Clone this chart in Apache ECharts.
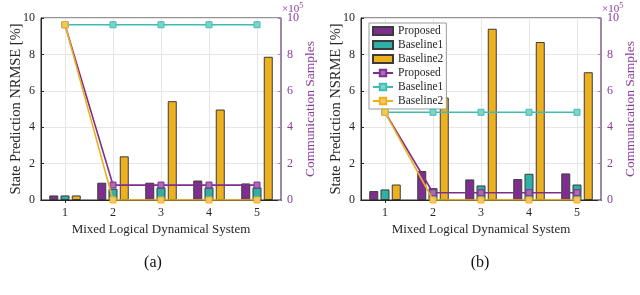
<!DOCTYPE html>
<html>
<head>
<meta charset="utf-8">
<script src="https://cdn.jsdelivr.net/npm/echarts@6/dist/echarts.min.js"></script>
<style>
html,body{margin:0;padding:0;background:#fff;}
#c{width:640px;height:295px;}
</style>
</head>
<body>
<div id="c"></div>
<script>
// ---------- data ----------
var categories = ['1', '2', '3', '4', '5'];
var seriesNames = ['Proposed', 'Baseline1', 'Baseline2'];
var yTicks = [0, 2, 4, 6, 8, 10];

// (a) State prediction NRMSE [%]
var nrmseProposed  = [0.25, 0.95, 0.95, 1.07, 0.91];
var nrmseBaseline1 = [0.25, 0.62, 0.69, 0.69, 0.69];
var nrmseBaseline2 = [0.25, 2.40, 5.43, 4.97, 7.87];
// (a) Communication samples (x10^5)
var commAProposed  = [9.63, 0.82, 0.82, 0.82, 0.82];
var commABaseline1 = [9.63, 9.63, 9.63, 9.63, 9.63];
var commABaseline2 = [9.63, 0, 0, 0, 0];

// (b) State prediction NSRME [%]
var nsrmeProposed  = [0.49, 1.59, 1.13, 1.15, 1.46];
var nsrmeBaseline1 = [0.58, 0.65, 0.80, 1.44, 0.85];
var nsrmeBaseline2 = [0.85, 5.63, 9.41, 8.68, 7.02];
// (b) Communication samples (x10^5)
var commBProposed  = [4.82, 0.40, 0.40, 0.40, 0.40];
var commBBaseline1 = [4.82, 4.82, 4.82, 4.82, 4.82];
var commBBaseline2 = [4.82, 0, 0, 0, 0];

// ---------- styles ----------
var FONT = '"Liberation Serif", "DejaVu Serif", serif';
var barColors = ['#7E2F8E', '#2FAFA5', '#EDB120'];
var lineColors = ['#7E2F8E', '#3FBDB2', '#EDB120'];
var markerFill = ['#a86bb5', '#7fd3cb', '#f3c95f'];
var rightColor = '#8A3D9C';
var rightLine = '#a77cba';
var dark = '#262626';

var grids = [
  {left: 41, top: 18, width: 240, height: 182},
  {left: 361, top: 18, width: 240, height: 182}
];

function gridOpt(g) {
  return {left: g.left, top: g.top, width: g.width, height: g.height,
    show: true, borderColor: dark, borderWidth: 1, backgroundColor: 'transparent'};
}

var xAxes = [], yAxes = [];
[0, 1].forEach(function (i) {
  xAxes.push({
    type: 'category', gridIndex: i, data: categories, position: 'bottom',
    boundaryGap: true,
    name: 'Mixed Logical Dynamical System', nameLocation: 'middle', nameGap: 23,
    nameMoveOverlap: false,
    nameTextStyle: {fontFamily: FONT, fontSize: 13, color: dark},
    axisLine: {show: true, lineStyle: {color: dark, width: 1}},
    axisTick: {show: true, inside: true, alignWithLabel: true, length: 3, lineStyle: {color: dark}},
    axisLabel: {fontFamily: FONT, fontSize: 12, color: dark, margin: 7},
    splitLine: {show: true, alignWithLabel: true, lineStyle: {color: '#e6e6e6', width: 1}}
  });
  xAxes.push({
    type: 'category', gridIndex: i, data: categories, position: 'top',
    boundaryGap: true,
    axisLine: {show: true, lineStyle: {color: dark, width: 1}},
    axisTick: {show: true, inside: true, alignWithLabel: true, length: 3, lineStyle: {color: dark}},
    axisLabel: {show: false},
    splitLine: {show: false}
  });
  yAxes.push({
    type: 'value', gridIndex: i, position: 'left', min: 0, max: 10, interval: 2,
    name: i === 0 ? 'State Prediction NRMSE [%]' : 'State Prediction NSRME [%]',
    nameLocation: 'middle', nameGap: 17, nameMoveOverlap: false,
    nameTextStyle: {fontFamily: FONT, fontSize: 14.5, color: dark},
    axisLine: {show: true, lineStyle: {color: dark, width: 1}},
    axisTick: {show: true, inside: true, length: 3, lineStyle: {color: dark}},
    axisLabel: {fontFamily: FONT, fontSize: 12, color: dark, margin: 6},
    splitLine: {show: true, lineStyle: {color: '#e6e6e6', width: 1}}
  });
  yAxes.push({
    type: 'value', gridIndex: i, position: 'right', min: 0, max: 10, interval: 2,
    name: 'Communication Samples',
    nameLocation: 'middle', nameGap: 22, nameMoveOverlap: false,
    nameTextStyle: {fontFamily: FONT, fontSize: 13.5, color: rightColor},
    axisLine: {show: true, lineStyle: {color: rightLine, width: 1}},
    axisTick: {show: true, inside: true, length: 3, lineStyle: {color: rightLine}},
    axisLabel: {fontFamily: FONT, fontSize: 12, color: rightColor, margin: 6},
    splitLine: {show: false}
  });
});

var barSets = [[nrmseProposed, nrmseBaseline1, nrmseBaseline2],
               [nsrmeProposed, nsrmeBaseline1, nsrmeBaseline2]];
var lineSets = [[commAProposed, commABaseline1, commABaseline2],
                [commBProposed, commBBaseline1, commBBaseline2]];

var series = [];
[0, 1].forEach(function (g) {
  barSets[g].forEach(function (d, k) {
    series.push({
      type: 'bar', name: seriesNames[k], data: d,
      xAxisIndex: g * 2, yAxisIndex: g * 2,
      barWidth: 9, barGap: '25%',
      itemStyle: {color: barColors[k], borderColor: '#3b3b3b', borderWidth: 1},
      z: 2, silent: true
    });
  });
});
[0, 1].forEach(function (g) {
  lineSets[g].forEach(function (d, k) {
    series.push({
      type: 'line', name: seriesNames[k] + ' line', data: d,
      xAxisIndex: g * 2, yAxisIndex: g * 2 + 1,
      symbol: 'rect', symbolSize: 6, showSymbol: true,
      lineStyle: {color: lineColors[k], width: 1.6},
      itemStyle: {color: markerFill[k], borderColor: lineColors[k], borderWidth: 1},
      z: 3 + k, silent: true, animation: false
    });
  });
});

var legendData = seriesNames.map(function (n) { return {name: n, icon: 'rect'}; })
  .concat(seriesNames.map(function (n) { return {name: n + ' line'}; }));

var option = {
  animation: false,
  backgroundColor: '#fff',
  grid: grids.map(gridOpt),
  xAxis: xAxes,
  yAxis: yAxes,
  legend: {
    show: true, orient: 'vertical', left: 369, top: 23,
    data: legendData,
    formatter: function (n) { return n.replace(' line', ''); },
    itemWidth: 20, itemHeight: 8, itemGap: 2,
    padding: [2, 3, 2, 3],
    backgroundColor: '#fff', borderColor: '#9a9a9a', borderWidth: 1, borderRadius: 0,
    textStyle: {fontFamily: FONT, fontSize: 11.5, lineHeight: 11, color: dark},
    selectedMode: false
  },
  graphic: [
    {type: 'text', x: 282, y: 2, style: {
      text: '×10{s|5}', fill: rightColor, font: '11px ' + FONT,
      rich: {s: {fontSize: 8, verticalAlign: 'top', fill: rightColor, fontFamily: FONT, padding: [0, 0, 6, 0]}}}},
    {type: 'text', x: 602, y: 2, style: {
      text: '×10{s|5}', fill: rightColor, font: '11px ' + FONT,
      rich: {s: {fontSize: 8, verticalAlign: 'top', fill: rightColor, fontFamily: FONT, padding: [0, 0, 6, 0]}}}},
    {type: 'text', x: 153, y: 255, style: {text: '(a)', fill: '#111', font: '16px ' + FONT, textAlign: 'center'}},
    {type: 'text', x: 480, y: 255, style: {text: '(b)', fill: '#111', font: '16px ' + FONT, textAlign: 'center'}}
  ],
  series: series
};

var chart = echarts.init(document.getElementById('c'), null, {renderer: 'canvas'});
chart.setOption(option);
</script>
</body>
</html>
